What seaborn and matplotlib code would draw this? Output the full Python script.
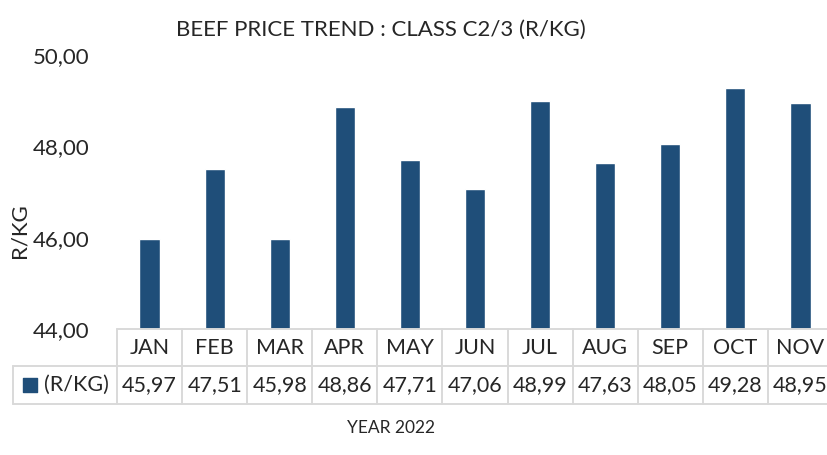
import pandas as pd
import numpy as np
import matplotlib
matplotlib.use('Agg')
import matplotlib.pyplot as plt
import seaborn as sns

months = ['JAN', 'FEB', 'MAR', 'APR', 'MAY', 'JUN', 'JUL', 'AUG', 'SEP', 'OCT', 'NOV']
prices = [45.97, 47.51, 45.98, 48.86, 47.71, 47.06, 48.99, 47.63, 48.05, 49.28, 48.95]
series_name = '(R/KG)'
yticks = [44, 46, 48, 50]

sns.set_style('white')
plt.rcParams['font.family'] = ['Lato', 'DejaVu Sans']

bar_color = '#1F4E79'
grid_color = '#D9D9D9'

df = pd.DataFrame({'month': months, 'price': prices})

fig = plt.figure(figsize=(8.27, 4.55), dpi=100)
ax = fig.add_axes([117 / 827, 1 - 329 / 455, 716 / 827, 274 / 455])

sns.barplot(x='month', y='price', data=df, color=bar_color, width=0.31,
            saturation=1, ax=ax)
ax.set_xlim(-0.5, len(months) - 0.5)
ax.set_ylim(44, 50)
ax.set_yticks(yticks)
ax.set_yticklabels([f'{v:.2f}'.replace('.', ',') for v in yticks], fontsize=16)
ax.tick_params(axis='y', length=0, pad=20)
ax.set_xticks([])
ax.set_xlabel('')
ax.set_ylabel('R/KG', fontsize=16)
ax.yaxis.set_label_coords(-0.122, 0.36)
for s in ax.spines.values():
    s.set_visible(False)

# data table under the axis
tr = ax.get_xaxis_transform()
row1 = -37 / 274
row2 = -75 / 274
legend_left = -0.5 - 104 / 65.1
n = len(months)
kw = dict(color=grid_color, lw=1.4, clip_on=False, transform=tr)
ax.plot([-0.5, n - 0.5], [0, 0], **kw)
ax.plot([legend_left, n - 0.5], [row1, row1], **kw)
ax.plot([legend_left, n - 0.5], [row2, row2], **kw)
ax.plot([legend_left, legend_left], [row1, row2], **kw)
for i in range(n + 1):
    ax.plot([i - 0.5, i - 0.5], [0, row2], **kw)
for i, (m, v) in enumerate(zip(months, prices)):
    ax.text(i, row1 / 2, m, ha='center', va='center', fontsize=15.5, transform=tr)
    ax.text(i, (row1 + row2) / 2, f'{v:.2f}'.replace('.', ','), ha='center',
            va='center', fontsize=15.5, transform=tr)
ax.scatter([legend_left + 0.26], [(row1 + row2) / 2], marker='s', s=110,
           color=bar_color, transform=tr, clip_on=False)
ax.text(legend_left + 0.47, (row1 + row2) / 2, series_name, ha='left',
        va='center', fontsize=15.5, transform=tr)

fig.text(381 / 827, 1 - 30 / 455, 'BEEF PRICE TREND : CLASS C2/3 (R/KG)',
         ha='center', va='center', fontsize=16)
fig.text(391 / 827, 1 - 428 / 455, 'YEAR 2022', ha='center', va='center',
         fontsize=12.5)

fig.savefig('out.png', dpi=100)
